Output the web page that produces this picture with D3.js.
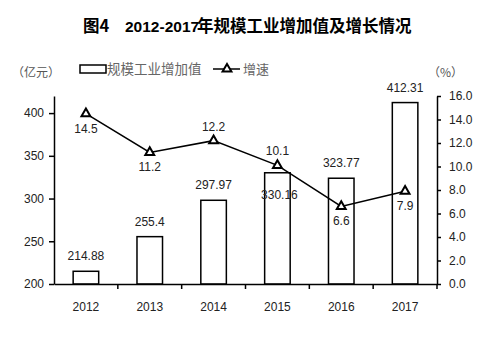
<!DOCTYPE html>
<html><head><meta charset="utf-8">
<script src="https://cdn.jsdelivr.net/npm/d3@7"></script>
<style>body{margin:0;background:#fff}svg{display:block}</style>
</head><body>
<svg id="c" width="495" height="337"></svg>
<script>
const years = ["2012","2013","2014","2015","2016","2017"];
const values = [214.88, 255.4, 297.97, 330.16, 323.77, 412.31];
const valueLabels = ["214.88","255.4","297.97","330.16","323.77","412.31"];
const growth = [14.5, 11.2, 12.2, 10.1, 6.6, 7.9];
const growthLabels = ["14.5","11.2","12.2","10.1","6.6","7.9"];
const leftTicks = [200, 250, 300, 350, 400];
const rightTicks = [0, 2, 4, 6, 8, 10, 12, 14, 16];
// label placement: 1 = above, -1 = below
const valuePos = [1, 1, 1, -1, 1, 1];
const growthPos = [-1, -1, 1, 1, -1, -1];

const svg = d3.select("#c");
const L = 54, R = 437, T = 96, B = 284;
const num = "'Liberation Sans', Arial, sans-serif";
const cjk = "'Noto Sans CJK SC', sans-serif";

const x = d3.scaleBand().domain(years).range([L, R]);
const yL = d3.scaleLinear().domain([200, 420]).range([B, T]);
const yR = d3.scaleLinear().domain([0, 16]).range([B, T]);

// title
const title = svg.append("text").attr("x", 83).attr("y", 32)
  .attr("font-weight", "bold").attr("fill", "#000");
title.append("tspan").attr("font-family", cjk).attr("font-size", 16.5).text("图4");
title.append("tspan").attr("x", 125).attr("font-family", num).attr("font-size", 15.5).text("2012-2017");
title.append("tspan").attr("x", 197).attr("font-family", cjk).attr("font-size", 16.5).text("年规模工业增加值及增长情况");

// bars
svg.append("g").selectAll("rect").data(values).join("rect")
  .attr("x", (d, i) => x(years[i]) + x.bandwidth() * 0.3)
  .attr("width", x.bandwidth() * 0.4)
  .attr("y", d => yL(d))
  .attr("height", d => yL(200) - yL(d))
  .attr("fill", "#fff").attr("stroke", "#000").attr("stroke-width", 1.5);

// axes
const gL = svg.append("g").attr("transform", `translate(${L},0)`)
  .call(d3.axisLeft(yL).tickValues(leftTicks).tickSize(5).tickSizeOuter(0).tickFormat(d3.format("d")));
const gR = svg.append("g").attr("transform", `translate(${R},0)`)
  .call(d3.axisRight(yR).tickValues(rightTicks).tickSize(4).tickSizeOuter(0).tickFormat(d3.format(".1f")));
const gX = svg.append("g").attr("transform", `translate(0,${B})`)
  .call(d3.axisBottom(x).tickSize(0).tickSizeOuter(0));
[gL, gR, gX].forEach(g => {
  g.select(".domain").attr("stroke", "#000").attr("stroke-width", 1.5);
  g.selectAll(".tick line").attr("stroke", "#000").attr("stroke-width", 1.5);
  g.selectAll("text").attr("font-family", num).attr("font-size", 12).attr("fill", "#222");
});
gL.selectAll(".tick text").attr("x", -10);
gR.selectAll(".tick text").attr("x", 12);
gX.selectAll(".tick text").attr("dy", 0).attr("y", 27);
// separators between categories on x axis
svg.append("g").selectAll("line").data(years.slice(1)).join("line")
  .attr("x1", d => x(d)).attr("x2", d => x(d))
  .attr("y1", B).attr("y2", B + 5).attr("stroke", "#000").attr("stroke-width", 1.5);
svg.append("line").attr("x1", R).attr("x2", R).attr("y1", B).attr("y2", B + 5)
  .attr("stroke", "#000").attr("stroke-width", 1.5);

// bar labels
svg.append("g").selectAll("text").data(values).join("text")
  .attr("x", (d, i) => x(years[i]) + x.bandwidth() / 2 + (valuePos[i] < 0 ? 2 : 0))
  .attr("y", (d, i) => valuePos[i] > 0 ? yL(d) - 11 : yL(d) + 26)
  .attr("text-anchor", "middle").attr("font-family", num).attr("font-size", 12).attr("fill", "#222")
  .text((d, i) => valueLabels[i]);

// line
const cx = i => x(years[i]) + x.bandwidth() / 2;
const line = d3.line().x((d, i) => cx(i)).y(d => yR(d));
svg.append("path").datum(growth).attr("d", line)
  .attr("fill", "none").attr("stroke", "#000").attr("stroke-width", 1.5);
const tri = d3.symbol().type(d3.symbolTriangle).size(34);
svg.append("g").selectAll("path").data(growth).join("path")
  .attr("transform", (d, i) => `translate(${cx(i)},${yR(d)})`)
  .attr("d", tri).attr("fill", "#fff").attr("stroke", "#000").attr("stroke-width", 2);

// line labels
svg.append("g").selectAll("text").data(growth).join("text")
  .attr("x", (d, i) => cx(i))
  .attr("y", (d, i) => growthPos[i] > 0 ? yR(d) - 10 : yR(d) + 19)
  .attr("text-anchor", "middle").attr("font-family", num).attr("font-size", 12).attr("fill", "#222")
  .text((d, i) => growthLabels[i]);

// units
svg.append("text").attr("x", 12).attr("y", 77).attr("font-family", cjk).attr("font-size", 12)
  .attr("fill", "#555").text("（亿元）");
svg.append("text").attr("x", 428).attr("y", 77).attr("font-family", cjk).attr("font-size", 12)
  .attr("fill", "#555").text("（%）");

// legend
svg.append("rect").attr("x", 80).attr("y", 65).attr("width", 26).attr("height", 8)
  .attr("fill", "#fff").attr("stroke", "#000").attr("stroke-width", 1.5);
svg.append("text").attr("x", 107).attr("y", 74).attr("font-family", cjk).attr("font-size", 13.5)
  .attr("fill", "#666").text("规模工业增加值");
svg.append("line").attr("x1", 213).attr("x2", 240).attr("y1", 69).attr("y2", 69)
  .attr("stroke", "#000").attr("stroke-width", 1.5);
svg.append("path").attr("transform", "translate(227,69)").attr("d", tri)
  .attr("fill", "#fff").attr("stroke", "#000").attr("stroke-width", 2);
svg.append("text").attr("x", 243).attr("y", 74).attr("font-family", cjk).attr("font-size", 13)
  .attr("fill", "#666").text("增速");
</script>
</body></html>
